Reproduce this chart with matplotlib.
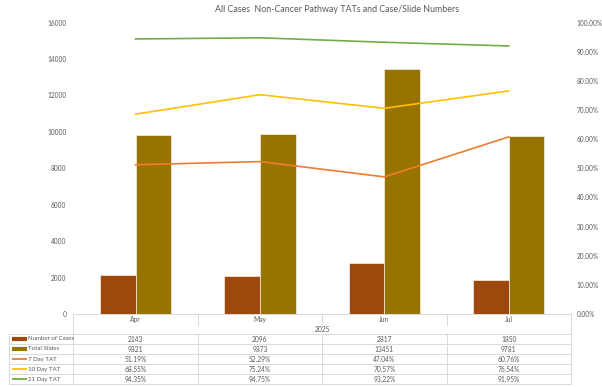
import matplotlib
matplotlib.use("Agg")
import matplotlib.pyplot as plt
from matplotlib.lines import Line2D
from matplotlib.transforms import blended_transform_factory
import numpy as np

plt.rcParams['font.family'] = ['Lato', 'DejaVu Sans']

categories = ["Apr", "May", "Jun", "Jul"]
year_label = "2025"
cases = [2143, 2096, 2817, 1850]
slides = [9821, 9873, 13451, 9781]
tat7 = [51.19, 52.29, 47.04, 60.76]
tat10 = [68.55, 75.24, 70.57, 76.54]
tat21 = [94.35, 94.75, 93.22, 91.95]
left_ticks = [0, 2000, 4000, 6000, 8000, 10000, 12000, 14000, 16000]
right_ticks = [0, 10, 20, 30, 40, 50, 60, 70, 80, 90, 100]

c_cases = "#9E480E"
c_slides = "#997300"
c_7 = "#ED7D31"
c_10 = "#FFC000"
c_21 = "#70AD47"
txt = "#595959"
grid = "#D9D9D9"

W, H = 602, 387
fig = plt.figure(figsize=(W / 100, H / 100), dpi=100)

def fx(px):
    return px / W

def fy(py):
    return 1 - py / H

L, R, T, B = 73.3, 571, 22.5, 314
ax = fig.add_axes([fx(L), fy(B), fx(R) - fx(L), fy(T) - fy(B)])
ax2 = ax.twinx()

x = np.arange(len(categories))
bw = 0.287
ax.bar(x - bw / 2, cases, bw, color=c_cases, edgecolor="white", linewidth=0.4, zorder=2)
ax.bar(x + bw / 2, slides, bw, color=c_slides, edgecolor="white", linewidth=0.4, zorder=2)
ax.set_xlim(-0.5, len(categories) - 0.5)
ax.set_ylim(0, 16000)
ax.set_yticks(left_ticks)
ax.set_yticklabels([str(v) for v in left_ticks], fontsize=4.7, color=txt)

ax2.plot(x, tat7, color=c_7, lw=1.2, zorder=3)
ax2.plot(x, tat10, color=c_10, lw=1.2, zorder=3)
ax2.plot(x, tat21, color=c_21, lw=1.2, zorder=3)
ax2.set_ylim(0, 100)
ax2.set_yticks(right_ticks)
ax2.set_yticklabels([f"{v:.2f}%" for v in right_ticks], fontsize=4.7, color=txt)

for a in (ax, ax2):
    for s in a.spines.values():
        s.set_visible(False)
    a.tick_params(length=0)
ax.tick_params(axis='y', pad=5)
ax2.tick_params(axis='y', pad=4)
ax.set_xticks([])

fig.text(fx(337), fy(10), "All Cases  Non-Cancer Pathway TATs and Case/Slide Numbers",
         ha="center", va="center", fontsize=6.4, color=txt)

# data table
def hline(y, x0, x1):
    fig.add_artist(Line2D([fx(x0), fx(x1)], [fy(y), fy(y)], color=grid, lw=0.7))

def vline(xp, y0, y1):
    fig.add_artist(Line2D([fx(xp), fx(xp)], [fy(y0), fy(y1)], color=grid, lw=0.7))

col_w = (R - L) / len(categories)
hline(B, L, R)
for yy in [334, 344, 354, 364, 374, 384]:
    hline(yy, 9, R)
vline(9, 334, 384)
vline(L, B, 384)
vline(R, B, 384)
for i in range(1, len(categories)):
    xp = L + i * col_w
    vline(xp, B, 325)
    vline(xp, 334, 384)

tr = blended_transform_factory(ax.transData, fig.transFigure)
for i, c in enumerate(categories):
    fig.text(i, fy(319.5), c, transform=tr, ha="center", va="center", fontsize=4.8, color=txt)
fig.text(fx((L + R) / 2), fy(329), year_label, ha="center", va="center", fontsize=4.8, color=txt)

rows = [
    ("Number of Cases", [str(v) for v in cases], c_cases, 3.0),
    ("Total Slides", [str(v) for v in slides], c_slides, 3.0),
    ("7 Day TAT", [f"{v:.2f}%" for v in tat7], c_7, 1.3),
    ("10 Day TAT", [f"{v:.2f}%" for v in tat10], c_10, 1.3),
    ("21 Day TAT", [f"{v:.2f}%" for v in tat21], c_21, 1.3),
]
for r, (name, vals, col, lw) in enumerate(rows):
    yc = 339 + 10 * r
    fig.add_artist(Line2D([fx(12), fx(27)], [fy(yc), fy(yc)], color=col, lw=lw,
                          solid_capstyle="butt"))
    fig.text(fx(28.5), fy(yc), name, ha="left", va="center", fontsize=4.4, color=txt)
    for i, v in enumerate(vals):
        fig.text(i, fy(yc), v, transform=tr, ha="center", va="center", fontsize=4.8, color=txt)

fig.savefig("out.png", dpi=100)
